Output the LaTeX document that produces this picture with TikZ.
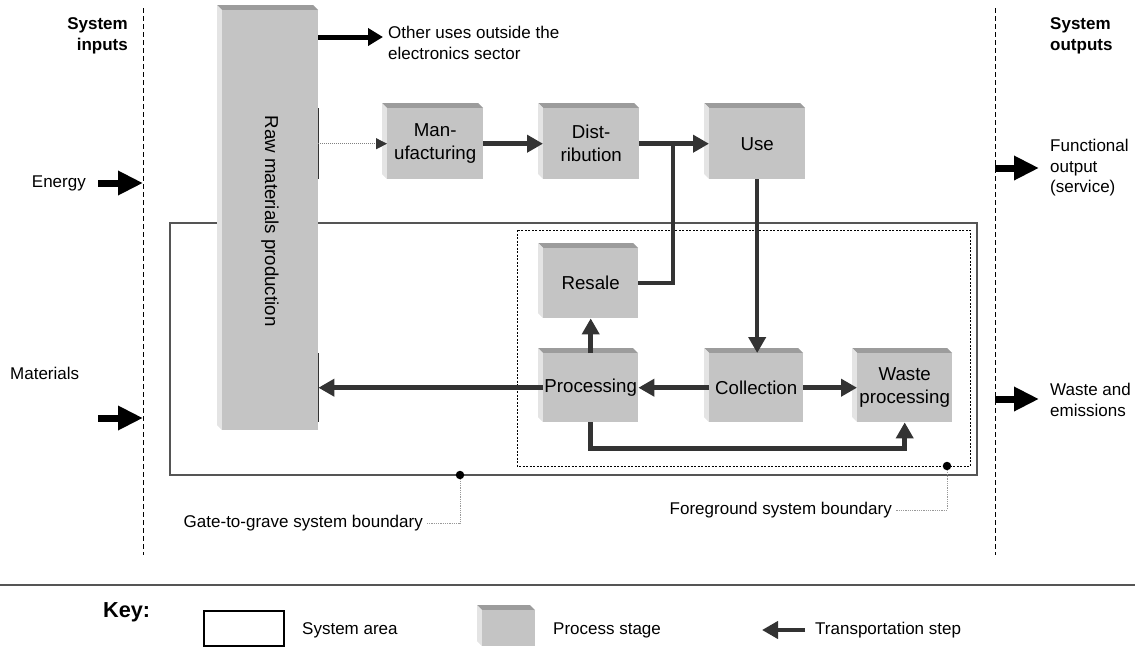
\documentclass[tikz,border=0pt]{standalone}
\usepackage{fontspec}
\setmainfont{Liberation Sans}
\usetikzlibrary{arrows.meta}
\definecolor{stageface}{HTML}{C4C4C4}
\definecolor{stagetopc}{HTML}{9C9C9C}
\definecolor{stagesidec}{HTML}{E4E4E4}
\definecolor{flowc}{HTML}{333333}
\definecolor{framec}{HTML}{555555}

% 3-D process stage: name, x1, y1, x2, y2, text (outer corners, y downwards)
\newcommand\procbox[6]{%
  \fill[stagetopc] (#2,#3) -- ({#4-5},#3) -- (#4,{#3+5}) -- ({#2+5},{#3+5}) -- cycle;
  \fill[stagesidec] (#2,#3) -- ({#2+5},{#3+5}) -- ({#2+5},#5) -- (#2,{#5-5}) -- cycle;
  \node[stage, minimum width={(#4-#2-5)*1pt}, minimum height={(#5-#3-5)*1pt},
        anchor=north west] (#1) at ({#2+5},{#3+5}) {#6};
}

\begin{document}
\begin{tikzpicture}[x=1pt,y=-1pt,
  stage/.style={fill=stageface, inner sep=0pt, align=center,
                font=\fontsize{18.7}{23}\selectfont},
  lbl/.style={inner sep=0pt, align=left, font=\fontsize{17}{20.5}\selectfont},
  hdr/.style={inner sep=0pt, font=\fontsize{17}{20.5}\selectfont\bfseries},
  trans/.style={draw=flowc, line width=4.5pt, -{Triangle[length=16pt,width=17pt]}},
  transline/.style={draw=flowc, line width=4.5pt, line join=miter},
  extarrow/.style={draw=black, line width=7pt, -{Triangle[length=25pt,width=23pt]}},
  sidearrow/.style={draw=black, line width=5pt, -{Triangle[length=15pt,width=17pt]}},
  feed/.style={draw=gray, line width=0.8pt, dash pattern=on 1pt off 1pt,
               -{Triangle[length=11pt,width=11pt,color=flowc]}},
  port/.style={draw=flowc, line width=1.2pt},
  leader/.style={draw=gray!80, line width=0.8pt, dash pattern=on 1pt off 0.8pt},
  sysline/.style={draw=black, line width=0.9pt, dash pattern=on 5pt off 3pt},
  gatebox/.style={draw=framec, line width=1.3pt},
  fgbox/.style={draw=black, line width=0.8pt, dash pattern=on 2pt off 1.5pt},
  dot/.style={circle, fill=black, inner sep=0pt, minimum size=8.5pt}
]
\useasboundingbox (0,0) rectangle (1141,646);

% system edges
\draw[sysline] (143,8) -- (143,555);
\draw[sysline] (995,8) -- (995,555);
\node[hdr, align=right, anchor=east] (sysin) at (128,36) {System\\inputs};
\node[hdr, align=left, anchor=west] (sysout) at (1050,36) {System\\outputs};

% boundaries
\draw[gatebox] (170,223) rectangle (977,475);
\draw[fgbox] (517,230) rectangle (970,466);

% process stages
\procbox{raw}{217}{5}{318}{430}{}
\node[rotate=-90, inner sep=0pt, font=\fontsize{18.7}{23}\selectfont] (rawtxt) at (270,221) {Raw materials production};
\procbox{manu}{382}{103}{483}{179}{Man-\\ufacturing}
\procbox{dist}{538}{103}{639}{179}{Dist-\\ribution}
\procbox{use}{704}{103}{805}{179}{Use}
\procbox{resale}{538}{243}{638}{318}{Resale}
\procbox{proc}{538}{348}{638}{422}{Processing}
\procbox{coll}{704}{348}{803}{422}{Collection}
\procbox{waste}{852}{348}{952}{422}{Waste\\processing}

% connection ports on the raw materials stage
\draw[port] (raw.east |- manu.north) -- (raw.east |- manu.south);
\draw[port] (raw.east |- proc.north) -- (raw.east |- proc.south);

% flows
\coordinate (other) at (383,37);
\node[lbl, anchor=west] (othertxt) at (388,43) {Other uses outside the\\electronics sector};
\draw[sidearrow] (raw.east |- other) -- (other);
\draw[feed] (manu.west -| raw.east) -- (manu.west);
\draw[trans] (manu.east) -- (dist.west);
\draw[trans] (dist.east) -- (use.west);
\coordinate (junction) at (673,143);
\draw[transline] (resale.east) -| (junction);
\draw[trans] (use.south) -- (use.south |- coll.north);
\draw[trans] (proc.north) -- (resale.south);
\draw[trans] (coll.west) -- (proc.east);
\draw[trans] (coll.east) -- (waste.west);
\draw[trans, line join=miter] (proc.south) -- ++(0,26) -| (waste.south);
\draw[trans] (proc.west) -- (proc.west -| raw.east);

% inputs and outputs
\node[lbl, anchor=east] (energy) at (86,183) {Energy};
\coordinate (energyin) at (143,183);
\draw[extarrow] (98,183) -- (energyin);
\node[lbl, anchor=west] (materials) at (10,373) {Materials};
\coordinate (matin) at (143,418);
\draw[extarrow] (98,418) -- (matin);
\node[lbl, anchor=west] (func) at (1050,168) {Functional\\output\\(service)};
\draw[extarrow] (995,168) -- (func.west -| 1039,0);
\node[lbl, anchor=west] (wasteout) at (1050,400) {Waste and\\emissions};
\draw[extarrow] (995,399) -- (1039,399);

% boundary labels
\node[dot] (gatedot) at (460,475) {};
\node[lbl, anchor=east] (gatetxt) at (423,523) {Gate-to-grave system boundary};
\draw[leader] (gatedot) |- ([xshift=4pt]gatetxt.east);
\node[dot] (fgdot) at (947,466) {};
\node[lbl, anchor=east] (fgtxt) at (892,510) {Foreground system boundary};
\draw[leader] (fgdot) |- ([xshift=4pt]fgtxt.east);

% key
\draw[draw=framec, line width=1.3pt] (0,585) -- (1135,585);
\node[inner sep=0pt, anchor=west, font=\fontsize{21.7}{26}\selectfont\bfseries] (key) at (103,612) {Key:};
\node[draw=black, line width=1.5pt, minimum width=80pt, minimum height=35pt, inner sep=0pt, anchor=north west] (keyarea) at (203,610) {};
\node[lbl, anchor=west] (keyareatxt) at (302,630) {System area};
\procbox{keystage}{477}{605}{535}{646}{}
\node[lbl, anchor=west] (keystagetxt) at (553,630) {Process stage};
\coordinate (keyflow) at (805,630);
\draw[trans] (keyflow) -- (762,630);
\node[lbl, anchor=west] (keyflowtxt) at (815,630) {Transportation step};
\end{tikzpicture}
\end{document}
